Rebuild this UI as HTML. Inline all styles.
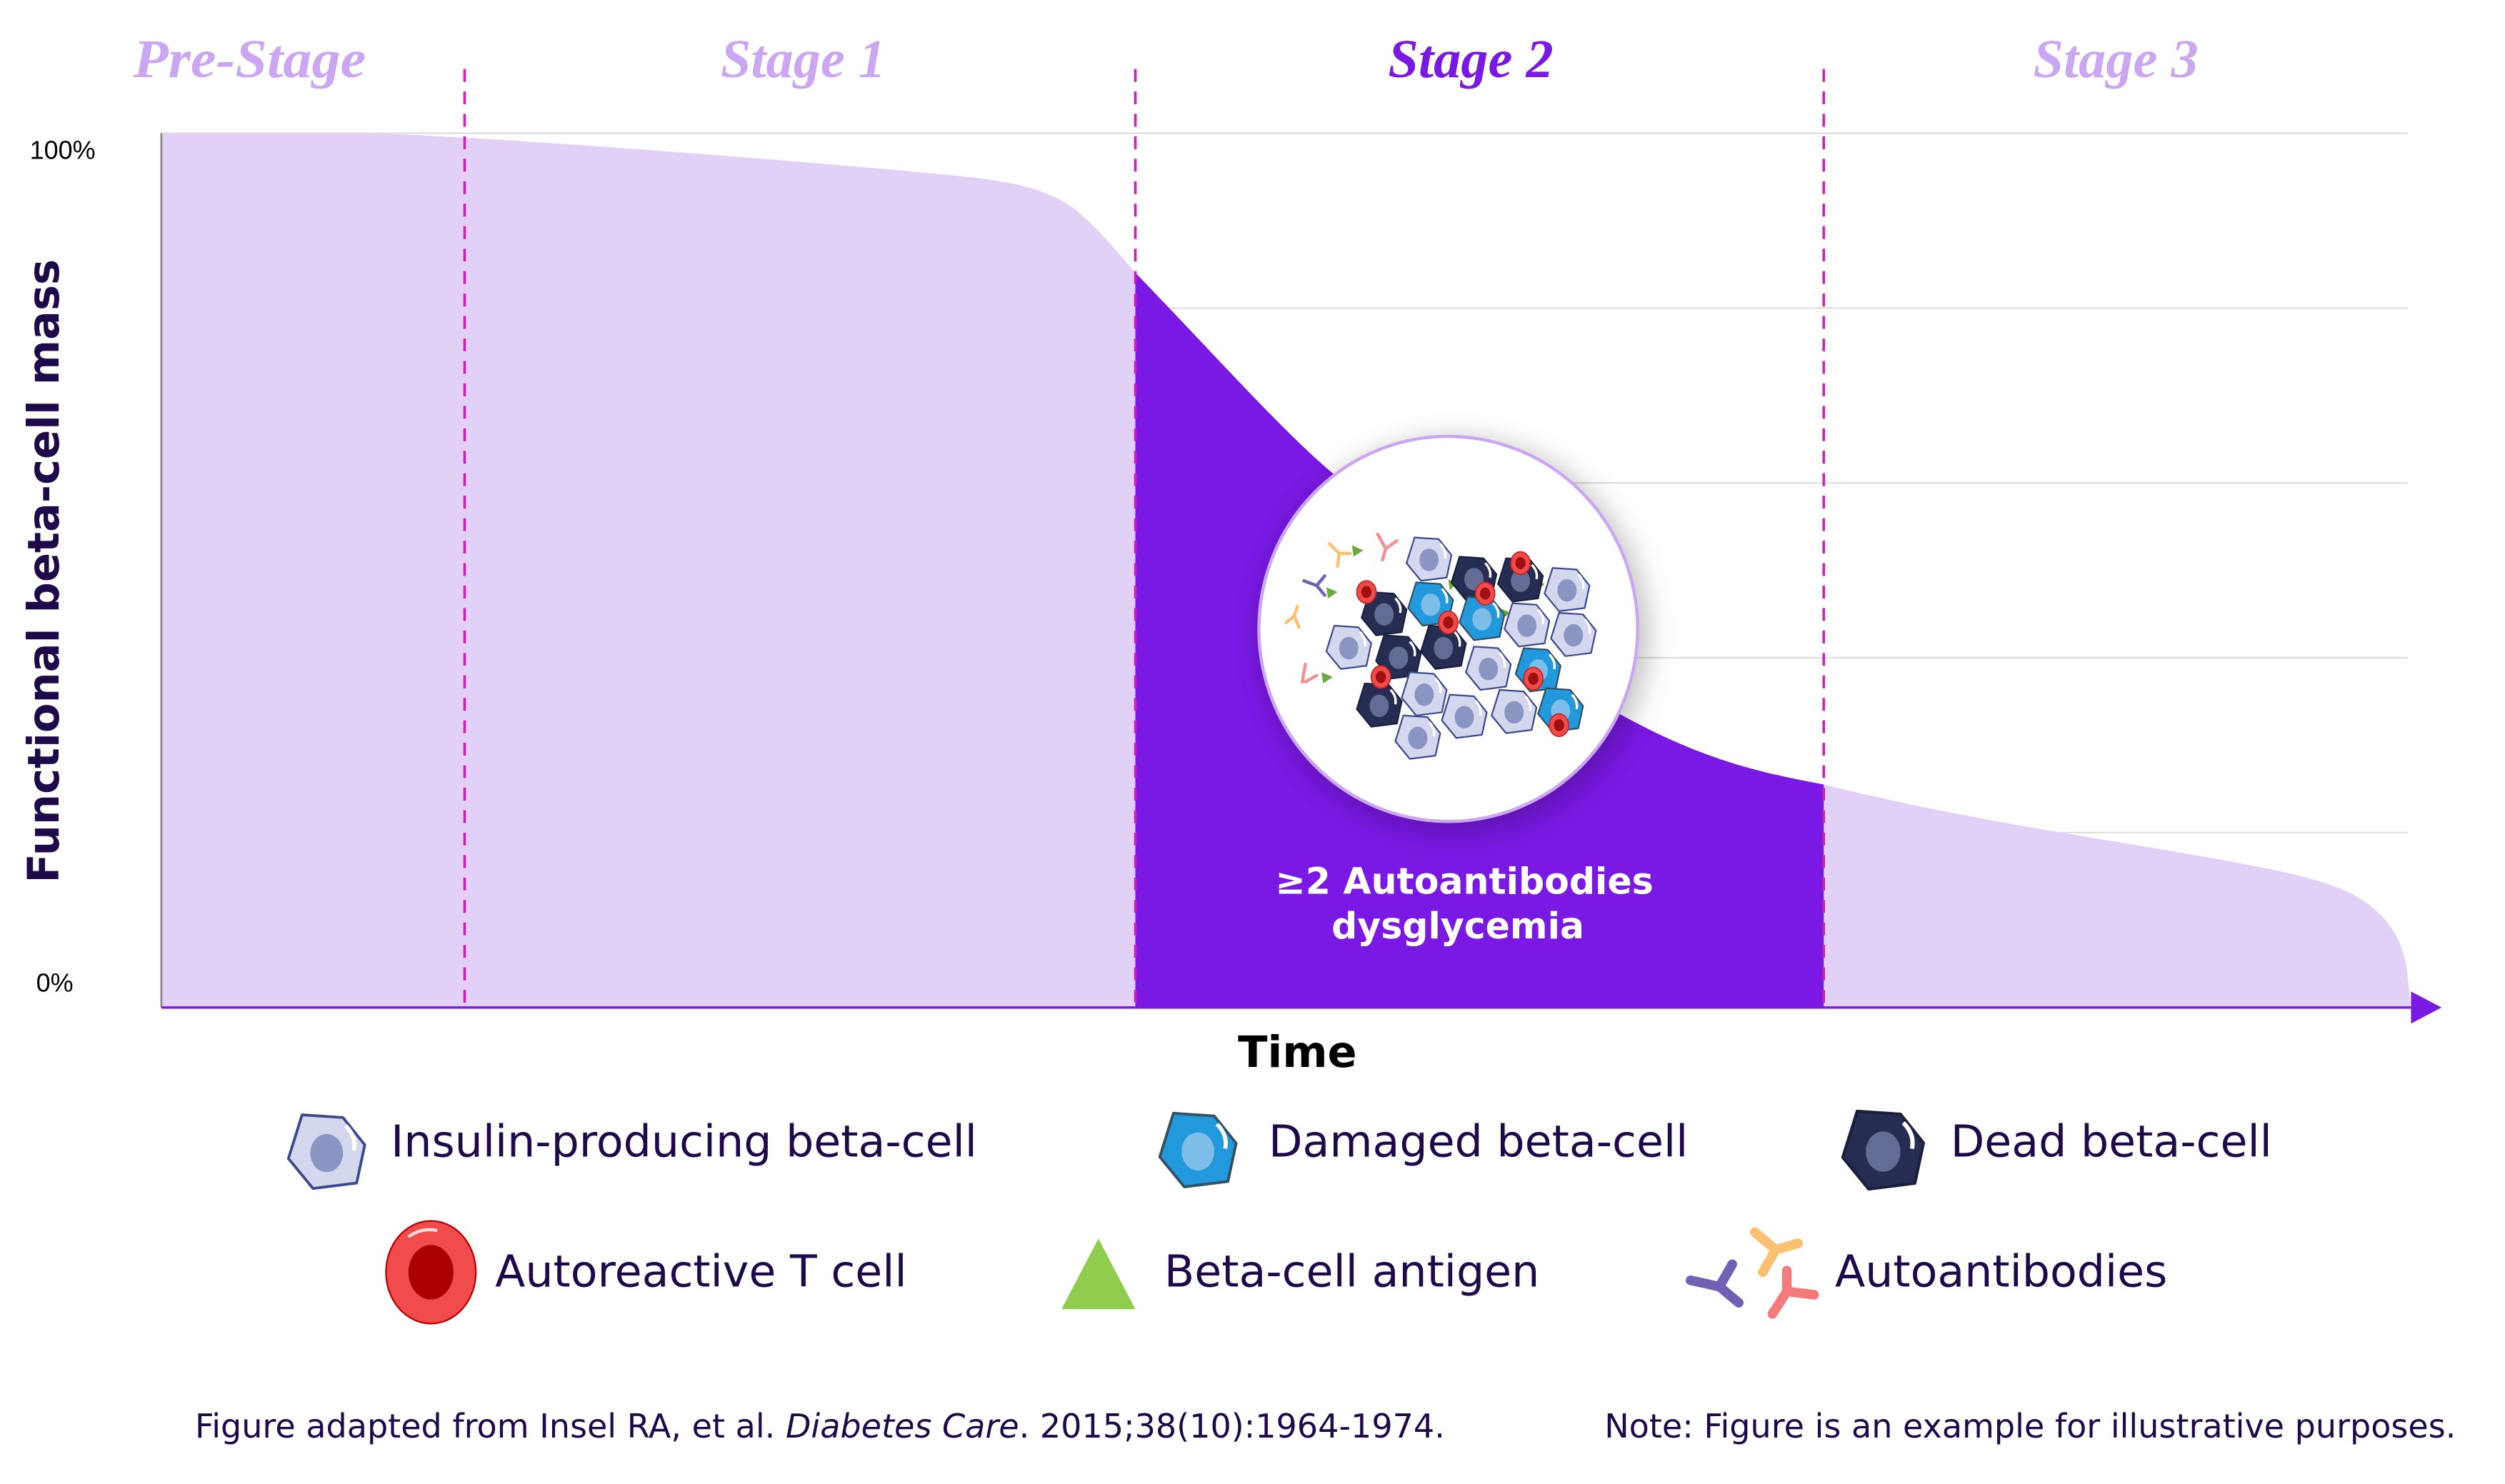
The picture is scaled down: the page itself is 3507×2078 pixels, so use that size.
<!DOCTYPE html>
<html><head><meta charset="utf-8"><style>
html,body{margin:0;padding:0;background:#fff;}
svg{display:block;}
</style></head><body>
<svg width="3507" height="2078" viewBox="0 0 1560 925" xmlns="http://www.w3.org/2000/svg">
<defs>
<filter id="sh" x="-30%" y="-30%" width="160%" height="160%"><feGaussianBlur stdDeviation="9"/></filter>
<g id="lc"><path d="M-9,-13 L6,-12 L14,-2 L11,12 L-5,14 L-14,3 Z" fill="#d3d8ef" stroke="#3c4a8c" stroke-width="1" stroke-linejoin="round"/><ellipse cx="0" cy="1" rx="6" ry="7" fill="#8a95c2"/><path d="M7,-9 Q11,-5 10,0" stroke="#fff" stroke-width="1.5" fill="none"/></g>
<g id="dc"><path d="M-9,-13 L6,-12 L14,-2 L11,12 L-5,14 L-14,3 Z" fill="#262c52" stroke="#1a1f3e" stroke-width="1" stroke-linejoin="round"/><ellipse cx="0" cy="1" rx="6" ry="7" fill="#636c94"/><path d="M7,-9 Q11,-5 10,0" stroke="#fff" stroke-width="1.5" fill="none"/></g>
<g id="bc"><path d="M-9,-13 L6,-12 L14,-2 L11,12 L-5,14 L-14,3 Z" fill="#2199dc" stroke="#34505f" stroke-width="1" stroke-linejoin="round"/><ellipse cx="0" cy="1" rx="6" ry="7" fill="#7dbde8"/><path d="M7,-9 Q11,-5 10,0" stroke="#fff" stroke-width="1.5" fill="none"/></g>
<g id="tc"><ellipse rx="6" ry="7" fill="#f24b4b" stroke="#c22" stroke-width="0.8"/><ellipse rx="3.2" ry="3.8" fill="#a01010"/></g>
</defs>
<g stroke="#dedede" stroke-width="1">
<line x1="100" y1="83" x2="1500" y2="83"/><line x1="100" y1="192" x2="1500" y2="192"/><line x1="100" y1="301" x2="1500" y2="301"/><line x1="100" y1="410" x2="1500" y2="410"/><line x1="100" y1="519" x2="1500" y2="519"/>
</g>
<path d="M100,628 L100,83 L230,83 C300,85 500,100 600,110 C650,115 665,125 680,140 C692,152 700,162 707,170 C760,225 800,270 830,295 C900,355 940,405 1000,440 C1060,475 1100,482 1136,489 C1200,505 1260,515 1320,525 C1380,535 1420,542 1440,548 C1480,558 1498,580 1500,610 L1502,628 Z" fill="#e2d1f7"/>
<clipPath id="cl"><rect x="707" y="0" width="429" height="628"/></clipPath>
<path clip-path="url(#cl)" d="M100,628 L100,83 L230,83 C300,85 500,100 600,110 C650,115 665,125 680,140 C692,152 700,162 707,170 C760,225 800,270 830,295 C900,355 940,405 1000,440 C1060,475 1100,482 1136,489 C1200,505 1260,515 1320,525 C1380,535 1420,542 1440,548 C1480,558 1498,580 1500,610 L1502,628 Z" fill="#7a18e4"/>
<line x1="100" y1="83" x2="100" y2="628" stroke="#888" stroke-width="1.2"/>
<line x1="100" y1="628" x2="1505" y2="628" stroke="#7a18e4" stroke-width="1.5"/>
<path d="M1502,618 L1521,628 L1502,638 Z" fill="#7a18e4"/>
<g stroke="#d11eb5" stroke-width="1.6" stroke-dasharray="8,6">
<line x1="289" y1="43" x2="289" y2="628"/><line x1="707" y1="43" x2="707" y2="628"/><line x1="1136" y1="43" x2="1136" y2="628"/>
</g>
<g font-family="Liberation Serif, serif" font-style="italic" font-weight="bold" font-size="34" text-anchor="middle">
<text x="155" y="48" fill="#cba7f1" textLength="145" lengthAdjust="spacingAndGlyphs">Pre-Stage</text>
<text x="500" y="48" fill="#cba7f1">Stage 1</text>
<text x="916" y="48" fill="#7a18e4">Stage 2</text>
<text x="1318" y="48" fill="#cba7f1">Stage 3</text>
</g>
<g font-family="Liberation Sans, sans-serif" font-size="16" fill="#000">
<text x="18" y="99">100%</text><text x="22" y="618">0%</text>
</g>
<text transform="translate(36,356) rotate(-90)" text-anchor="middle" font-family="DejaVu Sans, sans-serif" font-weight="bold" font-size="27" fill="#1e0a4a">Functional beta-cell mass</text>
<ellipse cx="906" cy="396" rx="120" ry="122" fill="#000" opacity="0.25" filter="url(#sh)"/>
<ellipse cx="902" cy="392" rx="118" ry="120" fill="#fff" stroke="#cba7f1" stroke-width="2"/>
<g stroke-width="2" stroke-linecap="round" fill="none">
<path d="M828,339 L834,345 L841,345 M834,345 L833,353" stroke="#fcc072"/>
<path d="M858,333 L863,342 L870,337 M863,342 L861,349" stroke="#f59090"/>
<path d="M812,362 L820,365 L825,359 M820,365 L825,371" stroke="#7260b5"/>
<path d="M801,388 L806,384 L808,378 M806,384 L809,391" stroke="#fcc072"/>
<path d="M811,425 L813,414 M813,425 L820,421" stroke="#f59090"/>
</g>
<g fill="#6aaa3a"><path d="M842,340 L849,343 L843,347Z"/><path d="M826,366 L833,369 L827,373Z"/><path d="M823,419 L830,422 L824,426Z"/><path d="M902,361 L907,364 L903,368Z"/><path d="M957,361 L962,364 L958,368Z"/><path d="M934,379 L941,382 L935,386Z"/></g>
<use href="#lc" x="890" y="348"/><use href="#dc" x="918" y="360"/><use href="#dc" x="947" y="361"/><use href="#lc" x="976" y="367"/>
<use href="#dc" x="862" y="382"/><use href="#bc" x="891" y="376"/><use href="#bc" x="923" y="385"/><use href="#lc" x="951" y="389"/><use href="#lc" x="980" y="395"/>
<use href="#lc" x="840" y="403"/><use href="#dc" x="871" y="409"/><use href="#dc" x="899" y="403"/><use href="#lc" x="927" y="416"/><use href="#bc" x="958" y="417"/>
<use href="#dc" x="859" y="439"/><use href="#lc" x="887" y="432"/><use href="#lc" x="912" y="446"/><use href="#lc" x="943" y="443"/><use href="#bc" x="972" y="442"/><use href="#lc" x="883" y="459"/>
<use href="#tc" x="851" y="369"/><use href="#tc" x="947" y="351"/><use href="#tc" x="925" y="370"/><use href="#tc" x="902" y="388"/><use href="#tc" x="860" y="422"/><use href="#tc" x="955" y="423"/><use href="#tc" x="971" y="452"/>
<g font-family="DejaVu Sans, sans-serif" font-weight="bold" font-size="22.5" fill="#fff" text-anchor="middle">
<text x="912" y="557">≥2 Autoantibodies</text><text x="908" y="585">dysglycemia</text>
</g>
<text x="808" y="665" text-anchor="middle" font-family="DejaVu Sans, sans-serif" font-weight="bold" font-size="27" fill="#000">Time</text>
<g transform="translate(203,717) scale(1.7)"><use href="#lc"/></g>
<g transform="translate(746,716) scale(1.7)"><use href="#bc"/></g>
<g transform="translate(1173,716) scale(1.8)"><use href="#dc"/></g>
<g transform="translate(268,793)"><ellipse rx="28" ry="32" fill="#f24b4b" stroke="#b00" stroke-width="1"/><ellipse rx="14" ry="17" fill="#a00" /><path d="M-14,-22 Q-6,-28 4,-26" stroke="#fff" stroke-width="2" fill="none" opacity="0.8"/></g>
<path d="M684,772 L707,816 L661,816 Z" fill="#8fcd4e"/>
<g stroke-width="6" stroke-linecap="round" fill="none">
<path d="M1053,798 L1071,802 L1079,788 M1071,802 L1083,812" stroke="#7260b5"/>
<path d="M1093,768 L1106,779 L1120,775 M1106,779 L1098,793" stroke="#fcc072"/>
<path d="M1104,819 L1113,805 L1130,807 M1113,805 L1113,792" stroke="#f57a7a"/>
</g>
<g font-family="DejaVu Sans, sans-serif" font-size="27.5" fill="#1e0a4a">
<text x="243" y="721">Insulin-producing beta-cell</text>
<text x="790" y="721">Damaged beta-cell</text>
<text x="1215" y="721">Dead beta-cell</text>
<text x="308" y="802">Autoreactive T cell</text>
<text x="725" y="802">Beta-cell antigen</text>
<text x="1143" y="802">Autoantibodies</text>
</g>
<g font-family="DejaVu Sans, sans-serif" font-size="20.5" fill="#1e0a4a">
<text x="121" y="896">Figure adapted from Insel RA, et al. <tspan font-style="italic">Diabetes Care</tspan>. 2015;38(10):1964-1974.</text>
<text x="1530" y="896" text-anchor="end">Note: Figure is an example for illustrative purposes.</text>
</g>
</svg>
</body></html>
